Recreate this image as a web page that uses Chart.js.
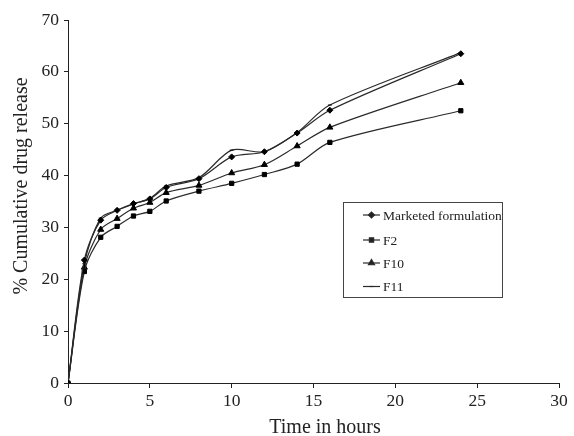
<!DOCTYPE html>
<html>
<head>
<meta charset="utf-8">
<script src="https://cdn.jsdelivr.net/npm/chart.js@4.4.1/dist/chart.umd.min.js"></script>
<style>
    html, body { margin: 0; padding: 0; background: #fff; }
    #wrap { position: relative; width: 574px; height: 436px; }
</style>
</head>
<body>
<div id="wrap"><canvas id="releaseChart" width="574" height="436"></canvas></div>
<script>
const hours = [0, 1, 2, 3, 4, 5, 6, 8, 10, 12, 14, 16, 24];
const marketed = [0, 23.7, 31.4, 33.3, 34.6, 35.5, 37.7, 39.4, 43.6, 44.6, 48.2, 52.6, 63.5];
const f2 = [0, 21.5, 28.1, 30.2, 32.2, 33.1, 35.1, 37.0, 38.5, 40.2, 42.2, 46.4, 52.5];
const f10 = [0, 22.3, 29.6, 31.7, 33.7, 34.8, 36.7, 38.1, 40.5, 42.1, 45.7, 49.3, 57.9];
const f11 = [0, 23.0, 31.8, 33.3, 34.5, 35.6, 38.0, 39.6, 44.9, 44.6, 48.3, 53.6, 63.7];
const xTicks = [0, 5, 10, 15, 20, 25, 30];
const yTicks = [0, 10, 20, 30, 40, 50, 60, 70];

const serif = '"Liberation Serif", "DejaVu Serif", serif';

function series(label, values, style, radius) {
    return {
        label: label,
        data: hours.map((h, i) => ({ x: h, y: values[i] })),
        borderColor: '#2a2a2a',
        borderWidth: 1.2,
        backgroundColor: '#000',
        pointBackgroundColor: '#000',
        pointBorderColor: '#000',
        pointStyle: style,
        pointRadius: radius,
        pointBorderWidth: 1,
        tension: 0.3
    };
}

// axis titles and the boxed legend are drawn by hand
const extras = {
    id: 'extras',
    afterDraw(chart) {
        const ctx = chart.ctx;
        ctx.save();
        ctx.fillStyle = '#222';
        ctx.font = '20px ' + serif;
        ctx.textAlign = 'center';
        ctx.textBaseline = 'middle';
        ctx.fillText('Time in hours', 325, 428);

        ctx.translate(22, 186);
        ctx.rotate(-Math.PI / 2);
        ctx.fillText('% Cumulative drug release', 0, 0);
        ctx.restore();

        // legend box
        ctx.save();
        ctx.strokeStyle = '#444';
        ctx.lineWidth = 1;
        ctx.strokeRect(343.5, 202.5, 159, 95);
        ctx.font = '13.5px ' + serif;
        ctx.fillStyle = '#222';
        ctx.textBaseline = 'middle';
        ctx.textAlign = 'left';
        const rows = [215, 240, 263, 286.5];
        chart.data.datasets.forEach((ds, i) => {
            const y = rows[i];
            ctx.strokeStyle = '#2a2a2a';
            ctx.lineWidth = 1.2;
            ctx.beginPath();
            ctx.moveTo(363, y);
            ctx.lineTo(380, y);
            ctx.stroke();
            if (ds.pointRadius > 0) {
                Chart.helpers.drawPoint(ctx, {
                    pointStyle: ds.pointStyle,
                    radius: ds.pointRadius,
                    borderWidth: 1
                }, 371.5, y);
            }
            ctx.fillStyle = '#222';
            ctx.fillText(ds.label, 383, y + 1);
        });
        ctx.restore();
    }
};

new Chart(document.getElementById('releaseChart'), {
    type: 'line',
    data: {
        datasets: [
            series('Marketed formulation', marketed, 'rectRot', 3),
            series('F2', f2, 'rect', 3),
            series('F10', f10, 'triangle', 3.5),
            series('F11', f11, 'line', 2)
        ]
    },
    options: {
        responsive: false,
        animation: false,
        layout: {
            padding: { top: 20, right: 15, left: 0, bottom: 0 }
        },
        scales: {
            x: {
                type: 'linear',
                min: 0,
                max: 30,
                afterFit: function (scale) { scale.height = 53; },
                afterBuildTicks: function (scale) {
                    scale.ticks = xTicks.map(v => ({ value: v }));
                },
                border: { color: '#222', width: 1 },
                grid: {
                    drawOnChartArea: false,
                    drawTicks: true,
                    tickLength: 5,
                    color: '#222'
                },
                ticks: {
                    color: '#222',
                    padding: 3,
                    maxRotation: 0,
                    font: { family: serif, size: 17.5 }
                }
            },
            y: {
                min: 0,
                max: 70,
                afterFit: function (scale) { scale.width = 68; },
                afterBuildTicks: function (scale) {
                    scale.ticks = yTicks.map(v => ({ value: v }));
                },
                border: { color: '#222', width: 1 },
                grid: {
                    drawOnChartArea: false,
                    drawTicks: true,
                    tickLength: 4,
                    color: '#222'
                },
                ticks: {
                    color: '#222',
                    padding: 5,
                    font: { family: serif, size: 17.5 }
                }
            }
        },
        plugins: {
            legend: { display: false },
            tooltip: { enabled: false }
        }
    },
    plugins: [extras]
});
</script>
</body>
</html>
